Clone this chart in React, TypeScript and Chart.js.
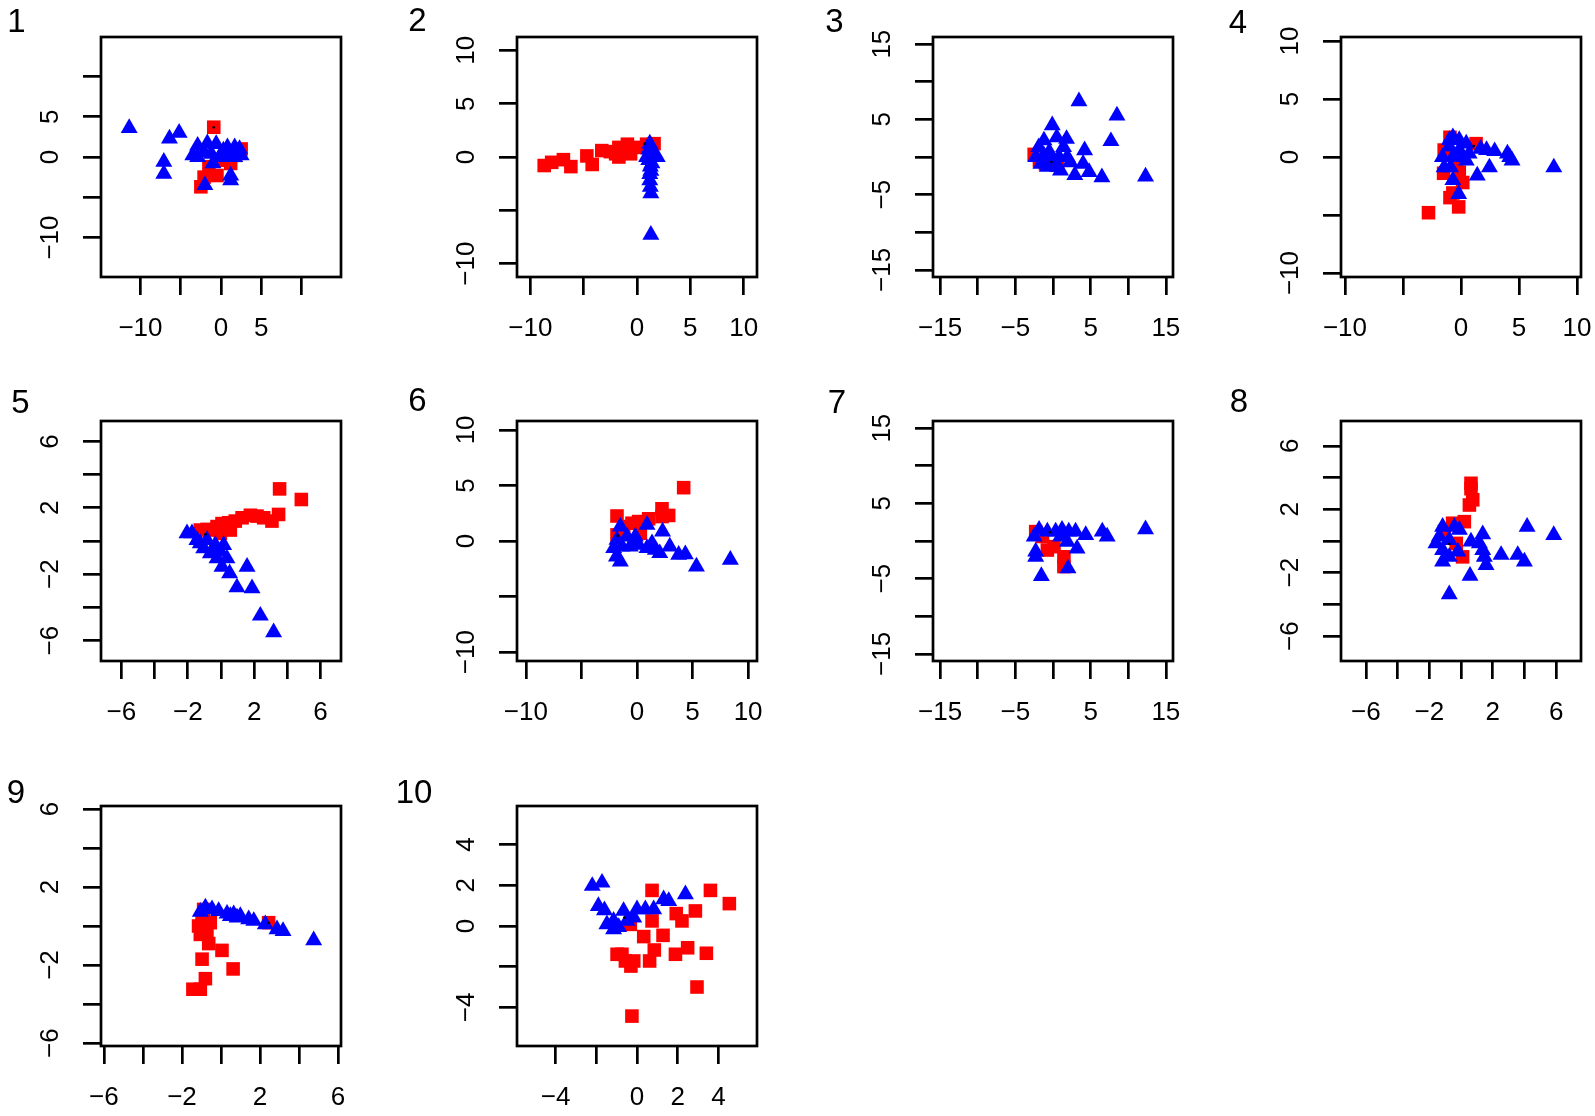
import React, { useEffect, useRef } from 'react';
import { Chart, registerables } from 'chart.js';

Chart.register(...registerables);

type Pt = [number, number];

// ---------- data ----------
const P1_RED: Pt[] = [[-0.9, 3.7], [-2.5, -3.7], [-2.1, -2.5], [-0.5, -2.3], [1.2, -0.8], [2.5, 1.0], [0.2, -0.4], [-1.5, -1.2], [0.5, 0.6], [1.8, 0.2]];
const P1_BLUE: Pt[] = [[-11.4, 3.6], [-6.4, 2.3], [-5.2, 3.0], [-7.1, -0.6], [-7.1, -2.1], [-2.9, 1.4], [-1.7, 1.7], [-0.6, 1.6], [-3.5, 0.2], [-2.9, 0.0], [-2.1, 0.6], [-1.2, 0.4], [-1.0, -0.8], [0.8, 1.2], [1.7, 1.2], [2.3, 1.0], [1.2, 0.4], [2.5, 0.2], [0.6, 0.0], [1.7, 0.0], [-0.2, 0.0], [1.2, -2.3], [1.2, -2.9], [-2.0, -3.5], [0.3, 0.8], [2.0, 0.5]];

const P2_RED: Pt[] = [[-8.7, -0.8], [-8.0, -0.5], [-6.9, -0.25], [-6.2, -0.9], [-4.7, 0.1], [-4.2, -0.7], [-3.3, 0.6], [-2.5, 0.5], [-1.7, 0.9], [-1.7, 0.0], [-0.9, 1.2], [-0.6, 0.3], [0.0, 0.9], [0.9, 1.2], [1.6, 1.25], [-2.0, 0.3], [-1.2, 0.6]];
const P2_BLUE: Pt[] = [[1.2, 1.25], [1.4, 0.5], [1.7, 0.15], [1.1, -0.3], [1.25, -0.9], [1.2, -1.6], [1.2, -2.2], [1.25, -2.8], [1.3, -3.4], [1.1, 0.7], [0.9, 0.0], [1.9, 0.0], [1.3, -7.3], [1.4, -0.6], [1.3, -1.3]];

const P3_RED: Pt[] = [[-2.5, 0.35], [-1.0, -0.9], [0.6, -1.1], [-1.8, -0.5]];
const P3_BLUE: Pt[] = [[3.45, 7.4], [8.5, 5.5], [7.7, 2.1], [12.3, -2.6], [6.5, -2.7], [4.8, -2.0], [2.9, -2.4], [4.0, -0.9], [4.2, 0.9], [1.8, 2.4], [0.5, 2.6], [-0.1, 4.2], [-1.2, 2.2], [-1.9, 1.3], [-2.3, 0.0], [-1.6, -0.9], [-0.75, -1.3], [0.6, -1.3], [1.0, -1.8], [1.9, 0.0], [2.3, -0.7], [0.1, -0.4], [-0.5, 0.7], [1.4, 1.3], [0.8, 0.0], [-1.2, 0.2]];

const P4_RED: Pt[] = [[-2.8, -4.8], [-0.2, -4.3], [-0.95, -3.5], [-0.7, -3.1], [0.15, -2.2], [-1.5, -1.4], [-0.15, -1.3], [-1.45, 0.6], [-0.95, 1.7], [1.3, 1.15], [-0.4, -0.3]];
const P4_BLUE: Pt[] = [[8.0, -0.9], [4.2, 0.0], [4.0, 0.3], [4.4, -0.3], [2.9, 0.5], [2.2, 0.6], [1.7, 0.7], [2.45, -0.9], [1.4, -1.6], [-0.2, -3.2], [-0.7, -2.0], [-1.45, -0.9], [-0.9, -0.9], [-1.6, 0.0], [-0.7, 1.7], [-0.15, 1.45], [0.45, 1.15], [0.7, 0.3], [-1.0, 0.9], [-0.15, 0.6], [0.45, -0.3], [-0.7, 0.0], [-1.0, 1.45], [0.15, 0.0]];

const P5_RED: Pt[] = [[3.53, 3.14], [4.84, 2.5], [3.47, 1.6], [3.07, 1.2], [2.57, 1.4], [2.17, 1.5], [1.77, 1.55], [1.27, 1.4], [0.86, 1.2], [0.46, 1.1], [0.06, 1.05], [-0.24, 0.87], [-0.44, 0.66], [-0.84, 0.7], [-1.25, 0.66], [-0.04, 0.46], [0.56, 0.66]];
const P5_BLUE: Pt[] = [[3.17, -5.5], [2.37, -4.5], [1.87, -2.85], [1.57, -1.55], [0.96, -2.8], [0.52, -1.95], [0.06, -1.55], [0.36, -1.05], [-0.24, -1.05], [-0.44, -0.64], [-1.04, -0.44], [-1.25, -0.14], [-1.75, 0.46], [-2.05, 0.46], [-1.45, 0.06], [-0.84, 0.06], [-0.34, -0.24], [0.16, -0.24], [-0.64, -0.74], [-0.04, -0.64]];

const P6_RED: Pt[] = [[4.2, 4.8], [2.25, 2.9], [2.85, 2.3], [2.25, 2.2], [1.05, 2.0], [0.15, 1.75], [-0.45, 1.6], [-1.8, 2.25], [-1.8, 0.55], [0.3, 0.7], [-1.2, 1.3]];
const P6_BLUE: Pt[] = [[8.4, -1.7], [5.35, -2.3], [4.35, -1.2], [3.75, -1.25], [2.95, -0.5], [2.3, 0.85], [2.05, -1.1], [1.65, -0.8], [0.9, 1.45], [0.9, -0.65], [0.15, -0.35], [-0.15, 0.4], [-0.6, -0.5], [-1.35, -0.5], [-1.5, 1.3], [-2.1, -0.65], [-1.5, -1.85], [-1.85, -1.4], [-0.9, 0.4], [-0.3, -0.05], [-1.8, 0.1], [1.35, -0.2]];

const P7_RED: Pt[] = [[-2.3, 1.25], [-0.75, -1.2], [1.45, -2.1], [1.45, -3.4], [0.13, -0.75], [-1.4, 0.6]];
const P7_BLUE: Pt[] = [[12.3, 1.55], [7.2, 0.6], [6.55, 1.25], [4.35, 0.8], [3.2, -1.0], [3.0, 1.25], [2.1, 1.25], [1.2, 1.5], [0.35, 1.25], [-0.75, 1.25], [-1.85, 1.5], [-2.5, 0.6], [-2.3, -1.4], [-2.3, -2.1], [-1.55, -4.65], [2.0, -3.65], [1.9, -0.1], [1.0, 0.6]];

const P8_RED: Pt[] = [[0.63, 3.64], [0.63, 3.3], [0.74, 2.6], [0.53, 2.27], [0.21, 1.22], [-0.53, 1.12], [-1.05, 0.6], [0.1, -1.0], [-0.3, -0.15]];
const P8_BLUE: Pt[] = [[5.85, 0.38], [4.17, 0.9], [4.0, -1.3], [3.58, -0.88], [2.53, -0.88], [1.58, -1.52], [1.47, -1.0], [1.37, -0.57], [1.37, 0.42], [0.57, -2.2], [-0.74, -3.37], [0.63, -0.04], [-0.1, 0.7], [-0.42, 0.9], [-1.16, 0.9], [-1.58, -0.15], [-1.16, -0.57], [-1.16, -1.3], [-0.74, -1.0], [-0.2, -0.67], [-0.74, 0.06], [-1.37, 0.27], [1.16, -0.15]];

const P9_RED: Pt[] = [[-1.44, -3.24], [-1.06, -3.24], [-0.8, -2.7], [0.62, -2.2], [-0.97, -1.7], [0.05, -1.25], [-0.63, -0.9], [-1.06, -0.43], [-1.15, 0.0], [-0.97, 0.17], [-0.55, 0.17], [-0.72, -0.34], [2.44, 0.17], [-0.89, 0.85]];
const P9_BLUE: Pt[] = [[4.75, -0.73], [3.18, -0.26], [2.87, -0.17], [2.27, 0.09], [1.68, 0.26], [1.42, 0.34], [0.99, 0.51], [0.65, 0.6], [0.31, 0.63], [-0.12, 0.77], [-0.46, 0.85], [-0.8, 0.94], [-1.06, 0.73], [0.48, 0.51], [0.82, 0.43]];

const P10_RED: Pt[] = [[-0.25, -4.43], [2.95, -3.0], [3.41, -1.34], [2.49, -1.07], [1.89, -1.39], [0.62, -1.72], [0.85, -1.18], [0.33, -0.52], [1.28, -0.46], [-0.3, -1.97], [-0.57, -1.72], [-0.98, -1.39], [-0.16, -1.72], [0.74, 1.75], [3.61, 1.75], [4.54, 1.1], [2.87, 0.74], [1.93, 0.61], [2.21, 0.25], [0.74, 0.25], [-0.33, 0.08], [-0.74, -1.39]];
const P10_BLUE: Pt[] = [[-2.2, 1.97], [-1.72, 2.13], [-1.9, 0.98], [-1.6, 0.77], [-1.15, 0.25], [-1.48, 0.08], [-0.9, -0.05], [-0.66, 0.74], [0.0, 0.82], [0.41, 0.82], [0.82, 0.82], [1.31, 1.31], [1.56, 1.23], [2.38, 1.56], [-0.49, 0.25], [-0.16, 0.41], [-1.15, -0.16]];

const CENTER_DOTS: Pt[] = [[-0.9, 3.68], [0.72, 1.25], [-0.2, -0.66], [1.1, 0.95], [-0.94, 0.4], [-1.74, 0.48], [-0.4, 1.15], [-0.74, -0.19], [2.44, 0.17], [-0.62, 0.41]];

const RED_SERIES: Pt[][] = [P1_RED, P2_RED, P3_RED, P4_RED, P5_RED, P6_RED, P7_RED, P8_RED, P9_RED, P10_RED];
const BLUE_SERIES: Pt[][] = [P1_BLUE, P2_BLUE, P3_BLUE, P4_BLUE, P5_BLUE, P6_BLUE, P7_BLUE, P8_BLUE, P9_BLUE, P10_BLUE];

const PANEL_TITLES = ['1', '2', '3', '4', '5', '6', '7', '8', '9', '10'];
const AXIS_LIMITS = [14.9, 11.25, 15.95, 10.34, 7.23, 10.8, 15.95, 7.57, 6.15, 5.9];
const TICK_STEPS = [5, 5, 5, 5, 2, 5, 5, 2, 2, 2];
const X_TICK_LABELS = [[-10, 0, 5], [-10, 0, 5, 10], [-15, -5, 5, 15], [-10, 0, 5, 10], [-6, -2, 2, 6], [-10, 0, 5, 10], [-15, -5, 5, 15], [-6, -2, 2, 6], [-6, -2, 2, 6], [-4, 0, 2, 4]];
const Y_TICK_LABELS = [[5, 0, -10], [10, 5, 0, -10], [15, 5, -5, -15], [10, 5, 0, -10], [6, 2, -2, -6], [10, 5, 0, -10], [15, 5, -5, -15], [6, 2, -2, -6], [6, 2, -2, -6], [4, 2, 0, -4]];

// ---------- layout ----------
const BOX_LEFT = [101, 517, 933, 1341, 101, 517, 933, 1341, 101, 517];
const BOX_TOP = [37, 37, 37, 37, 421, 421, 421, 421, 806, 806];
const TITLE_POS: Pt[] = [[16.5, 32], [417.5, 31], [834.5, 32], [1238, 33], [20.5, 413], [417.5, 411], [837, 413], [1239, 412], [16, 803], [414, 803]];
const BOX = 240;
const PAD_L = 30;
const AXIS_W = 100;
const PAD_T = 37;
const PAD_R = 22;
const AXIS_H = 75;
const CANVAS_W = PAD_L + AXIS_W + BOX + PAD_R;
const CANVAS_H = PAD_T + BOX + AXIS_H;
const FONT = '"Liberation Sans", Arial, Helvetica, sans-serif';
const LABEL_SIZE = 26;
const LINE_W = 2.7;

const fmt = (v: number) => (v < 0 ? '\u2212' + Math.abs(v) : String(v));

function Panel({ idx }: { idx: number }) {
  const ref = useRef<HTMLCanvasElement | null>(null);
  const cLeft = BOX_LEFT[idx] - PAD_L - AXIS_W;
  const cTop = BOX_TOP[idx] - PAD_T;

  useEffect(() => {
    if (!ref.current) return;
    const L = AXIS_LIMITS[idx];
    const step = TICK_STEPS[idx];
    const panelPlugin = {
      id: 'rPanel' + idx,
      afterDraw(chart: any) {
        const { ctx, chartArea: a, scales } = chart;
        ctx.save();
        ctx.strokeStyle = '#000';
        ctx.lineWidth = LINE_W;
        ctx.strokeRect(a.left, a.top, a.right - a.left, a.bottom - a.top);
        ctx.fillStyle = '#000';
        ctx.font = LABEL_SIZE + 'px ' + FONT;
        ctx.textAlign = 'center';
        ctx.textBaseline = 'middle';
        for (const v of Y_TICK_LABELS[idx]) {
          const py = scales.y.getPixelForValue(v);
          ctx.save();
          ctx.translate(a.left - 50, py);
          ctx.rotate(-Math.PI / 2);
          ctx.fillText(fmt(v), 0, 0);
          ctx.restore();
        }
        ctx.font = '33px ' + FONT;
        ctx.textBaseline = 'alphabetic';
        ctx.fillText(PANEL_TITLES[idx], TITLE_POS[idx][0] - cLeft, TITLE_POS[idx][1] - cTop);
        ctx.restore();
      },
    };
    const grid = {
      drawOnChartArea: false,
      drawTicks: true,
      tickLength: 18,
      tickWidth: LINE_W,
      tickColor: '#000',
      lineWidth: LINE_W,
      color: '#000',
    };
    const chart = new Chart(ref.current, {
      type: 'scatter',
      data: {
        datasets: [
          {
            data: CENTER_DOTS.slice(idx, idx + 1).map(([x, y]) => ({ x, y })),
            pointStyle: 'circle',
            pointRadius: 1.3,
            backgroundColor: '#000',
            borderWidth: 0,
            order: 0,
          },
          {
            data: BLUE_SERIES[idx].map(([x, y]) => ({ x, y })),
            pointStyle: 'triangle',
            pointRadius: 9.8,
            backgroundColor: '#0000FF',
            borderColor: '#0000FF',
            borderWidth: 0,
            order: 1,
          },
          {
            data: RED_SERIES[idx].map(([x, y]) => ({ x, y })),
            pointStyle: 'rect',
            pointRadius: 9.6,
            backgroundColor: '#FF0000',
            borderColor: '#FF0000',
            borderWidth: 0,
            order: 2,
          },
        ],
      },
      options: {
        animation: false,
        responsive: false,
        events: [],
        layout: { padding: { left: PAD_L, top: PAD_T, right: PAD_R, bottom: 0 } },
        plugins: { legend: { display: false }, tooltip: { enabled: false }, title: { display: false } },
        scales: {
          x: {
            type: 'linear',
            position: 'bottom',
            min: -L,
            max: L,
            grid,
            border: { display: false },
            ticks: {
              stepSize: step,
              includeBounds: false,
              autoSkip: false,
              maxRotation: 0,
              minRotation: 0,
              padding: 18,
              color: '#000',
              font: { family: FONT, size: LABEL_SIZE },
              callback: (value: any) => {
                const v = Number(value);
                return X_TICK_LABELS[idx].some((t) => Math.abs(t - v) < 1e-6) ? fmt(v) : '';
              },
            },
            afterFit: (s: any) => {
              s.height = AXIS_H;
              s.paddingLeft = 0;
              s.paddingRight = 0;
            },
          },
          y: {
            type: 'linear',
            position: 'left',
            min: -L,
            max: L,
            grid,
            border: { display: false },
            ticks: { stepSize: step, includeBounds: false, display: false },
            afterFit: (s: any) => {
              s.width = AXIS_W;
              s.paddingTop = 0;
              s.paddingBottom = 0;
            },
          },
        },
      },
      plugins: [panelPlugin],
    } as any);
    return () => chart.destroy();
  }, [idx]);

  return (
    <canvas
      ref={ref}
      width={CANVAS_W}
      height={CANVAS_H}
      style={{ position: 'absolute', left: cLeft, top: cTop, width: CANVAS_W, height: CANVAS_H }}
    />
  );
}

export default function App() {
  return (
    <div
      style={{
        position: 'absolute',
        left: 0,
        top: 0,
        width: 1595,
        height: 1116,
        overflow: 'hidden',
        background: '#fff',
      }}
    >
      {PANEL_TITLES.map((_, i) => (
        <Panel key={i} idx={i} />
      ))}
    </div>
  );
}
